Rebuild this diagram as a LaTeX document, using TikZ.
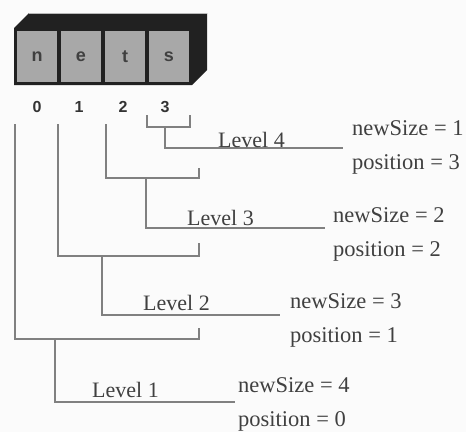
\documentclass[tikz,border=0pt]{standalone}
\usepackage{fontspec}
\setmainfont{Liberation Serif}
\setsansfont{Liberation Sans}
\usepackage{tikz}
\usetikzlibrary{positioning,calc}
\definecolor{boxdark}{gray}{0.13}
\definecolor{cellgray}{gray}{0.66}
\definecolor{wiregray}{gray}{0.5}
\tikzset{cell/.style={rectangle,draw=boxdark,line width=1pt,fill=cellgray,minimum width=41pt,minimum height=52pt,inner sep=0pt,font=\sffamily\bfseries\fontsize{18}{18}\selectfont,text=black!75},
         idx/.style={inner sep=0pt,font=\sffamily\bfseries\fontsize{16}{16}\selectfont,text=black!80},
         lvl/.style={anchor=base west,inner sep=0pt,font=\fontsize{22}{22}\selectfont,text=black!75},
         info/.style={anchor=base west,inner sep=0pt,font=\fontsize{22.5}{22.5}\selectfont,text=black!75},
         wire/.style={draw=wiregray,line width=1.6pt}
}

\begin{document}
\begin{tikzpicture}[x=1pt,y=-1pt]
  \useasboundingbox[fill=gray!3] (0,0) rectangle (466,432);
  % array block with its depth
  \fill[boxdark] (14,28) -- (29,13) -- (207,13) -- (207,70) -- (192,85) -- (14,85) -- cycle;
  \draw[gray!55,line width=0.8pt] (29,13) -- (207,13);
  \foreach \ch [count=\i from 0] in {n,e,t,s}
    \node[cell] (c\i) at (37+44*\i,56.5) {\ch};
  \foreach \x [count=\i from 0] in {37,79,123,165}
    \node[idx] (i\i) at (\x,107) {\i};

  % end points of the level lines
  \coordinate (e4) at (343,148);
  \coordinate (e3) at (325,228);
  \coordinate (e2) at (280,315);
  \coordinate (e1) at (235,402);

  % level 4
  \draw[wire] (147,115) |- (190,127) -- (190,115);
  \draw[wire] (165,127) |- (e4);
  % level 3
  \draw[wire] (106,124) |- (199,178) -- (199,168);
  \draw[wire] (146,178) |- (e3);
  % level 2
  \draw[wire] (58,124) |- (199,256) -- (199,243);
  \draw[wire] (102,256) |- (e2);
  % level 1
  \draw[wire] (15,124) |- (199,339) -- (199,328);
  \draw[wire] (55,339) |- (e1);

  \node[lvl] (lv4) at (218,147) {Level 4};
  \node[lvl] (lv3) at (187,225) {Level 3};
  \node[lvl] (lv2) at (143,310) {Level 2};
  \node[lvl] (lv1) at (92,397) {Level 1};

  \foreach \lv/\x/\y/\n/\p in {4/352/135/1/3,3/333/222/2/2,2/290/308/3/1,1/238/392/4/0}{
    \node[info] (sz\lv) at (\x,\y) {newSize = \n};
    \node[info] (pos\lv) at (\x,\y+34) {position = \p};
  }
\end{tikzpicture}
\end{document}
